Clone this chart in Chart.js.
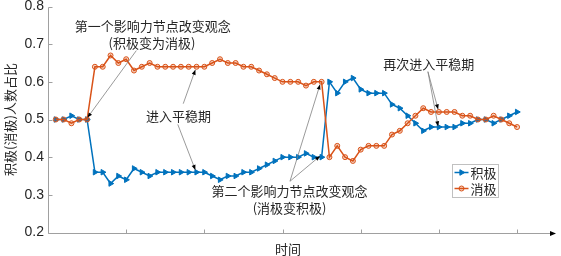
<!DOCTYPE html>
<html>
<head>
<meta charset="utf-8">
<script src="https://cdn.jsdelivr.net/npm/chart.js@4/dist/chart.umd.min.js"></script>
<style>
  html, body { margin: 0; padding: 0; background: #fff; }
</style>
</head>
<body>
<canvas id="chart" width="561" height="256"></canvas>
<script>
// time steps 1..60
const steps = Array.from({ length: 60 }, (_, i) => i + 1);
const seriesNames = ["积极", "消极"];

const positive = [
  0.50, 0.50, 0.51, 0.50, 0.50, 0.36, 0.36, 0.33, 0.35, 0.34,
  0.37, 0.36, 0.35, 0.36, 0.36, 0.36, 0.36, 0.36, 0.36, 0.36,
  0.35, 0.34, 0.35, 0.35, 0.36, 0.36, 0.37, 0.38, 0.39, 0.40,
  0.40, 0.40, 0.41, 0.40, 0.40, 0.60, 0.57, 0.60, 0.61, 0.58,
  0.57, 0.57, 0.57, 0.54, 0.53, 0.51, 0.49, 0.47, 0.48, 0.48,
  0.48, 0.48, 0.49, 0.49, 0.50, 0.50, 0.49, 0.50, 0.51, 0.52,
];
const negative = [
  0.50, 0.50, 0.49, 0.50, 0.50, 0.64, 0.64, 0.67, 0.65, 0.66,
  0.63, 0.64, 0.65, 0.64, 0.64, 0.64, 0.64, 0.64, 0.64, 0.64,
  0.65, 0.66, 0.65, 0.65, 0.64, 0.64, 0.63, 0.62, 0.61, 0.60,
  0.60, 0.60, 0.59, 0.60, 0.60, 0.40, 0.43, 0.40, 0.39, 0.42,
  0.43, 0.43, 0.43, 0.46, 0.47, 0.49, 0.51, 0.53, 0.52, 0.52,
  0.52, 0.52, 0.51, 0.51, 0.50, 0.50, 0.51, 0.50, 0.49, 0.48,
];

const yTicks = [0.2, 0.3, 0.4, 0.5, 0.6, 0.7, 0.8];
const xTicks = [10, 20, 30, 40, 50, 60];

// annotation text, anchored in data units
const notes = [
  { text: "第一个影响力节点改变观念", x: 13.4, y: 0.747 },
  { text: "(积极变为消极)", x: 13.3, y: 0.703 },
  { text: "进入平稳期", x: 16.7, y: 0.509 },
  { text: "第二个影响力节点改变观念", x: 30.9, y: 0.310 },
  { text: "(消极变积极)", x: 30.9, y: 0.266 },
  { text: "再次进入平稳期", x: 48.7, y: 0.646 },
];
// arrows: [fromX, fromY, toX, toY]
const arrows = [
  [11.3, 0.683, 5.05, 0.505],
  [17.3, 0.542, 18.85, 0.632],
  [16.6, 0.487, 18.85, 0.366],
  [30.95, 0.336, 34.8, 0.593],
  [30.95, 0.336, 34.8, 0.403],
  [48.6, 0.627, 49.9, 0.527],
  [48.6, 0.627, 49.9, 0.482],
];

const cjk = '"Noto Sans CJK SC", "Noto Sans", sans-serif';
const latin = '"Liberation Sans", Arial, sans-serif';
const textColor = "#262626";
const axisColor = "#a0a0a0";
const blue = "#0072BD";
const orange = "#D95319";

function arrowHead(ctx, x0, y0, x1, y1, len, half) {
  const a = Math.atan2(y1 - y0, x1 - x0);
  ctx.beginPath();
  ctx.moveTo(x1, y1);
  ctx.lineTo(x1 - len * Math.cos(a) + half * Math.sin(a), y1 - len * Math.sin(a) - half * Math.cos(a));
  ctx.lineTo(x1 - len * Math.cos(a) - half * Math.sin(a), y1 - len * Math.sin(a) + half * Math.cos(a));
  ctx.closePath();
  ctx.fill();
}

const axesPlugin = {
  id: "axesPlugin",
  beforeDatasetsDraw(chart) {
    const { ctx, chartArea, scales } = chart;
    const left = Math.round(chartArea.left) + 0.5;
    const bottom = Math.round(chartArea.bottom) + 0.5;
    ctx.save();
    ctx.strokeStyle = axisColor;
    ctx.lineWidth = 1;
    ctx.beginPath();
    ctx.moveTo(left, Math.round(scales.y.getPixelForValue(0.8)) + 0.5);
    ctx.lineTo(left, bottom);
    ctx.lineTo(chartArea.right + 26, bottom);
    ctx.stroke();
    // inward ticks
    ctx.beginPath();
    yTicks.forEach(v => {
      const y = Math.round(scales.y.getPixelForValue(v)) + 0.5;
      ctx.moveTo(left, y);
      ctx.lineTo(left + 4, y);
    });
    xTicks.forEach(v => {
      const x = Math.round(scales.x.getPixelForValue(v)) + 0.5;
      ctx.moveTo(x, bottom);
      ctx.lineTo(x, bottom - 4);
    });
    ctx.stroke();
    ctx.fillStyle = "#000";
    arrowHead(ctx, chartArea.left, bottom, chartArea.right + 28, bottom, 6, 2.5);
    ctx.restore();
  },
  afterDatasetsDraw(chart) {
    const { ctx, scales } = chart;
    const sx = scales.x, sy = scales.y;
    ctx.save();
    arrows.forEach(([fx, fy, tx, ty]) => {
      const x0 = sx.getPixelForValue(fx), y0 = sy.getPixelForValue(fy);
      const x1 = sx.getPixelForValue(tx), y1 = sy.getPixelForValue(ty);
      ctx.strokeStyle = "#808080";
      ctx.lineWidth = 0.8;
      ctx.beginPath();
      ctx.moveTo(x0, y0);
      ctx.lineTo(x1, y1);
      ctx.stroke();
      ctx.fillStyle = "#000";
      arrowHead(ctx, x0, y0, x1, y1, 5, 2);
    });
    ctx.fillStyle = textColor;
    ctx.font = "13px " + cjk;
    ctx.textAlign = "center";
    ctx.textBaseline = "middle";
    notes.forEach(n => {
      ctx.fillText(n.text, sx.getPixelForValue(n.x), sy.getPixelForValue(n.y));
    });

    // legend box
    const bx = 452.5, by = 164.5, bw = 46, bh = 33;
    ctx.fillStyle = "#fff";
    ctx.fillRect(bx, by, bw, bh);
    ctx.strokeStyle = "#c0c0c0";
    ctx.lineWidth = 1;
    ctx.strokeRect(bx, by, bw, bh);
    chart.data.datasets.forEach((ds, i) => {
      const y = by + 8 + i * 16;
      ctx.strokeStyle = ds.borderColor;
      ctx.lineWidth = ds.borderWidth;
      ctx.beginPath();
      ctx.moveTo(bx + 2, y);
      ctx.lineTo(bx + 16, y);
      ctx.stroke();
      ctx.fillStyle = ds.pointBackgroundColor;
      ctx.lineWidth = 1;
      Chart.helpers.drawPoint(ctx, {
        pointStyle: ds.pointStyle,
        rotation: ds.pointRotation,
        radius: ds.pointRadius,
        borderWidth: 1,
      }, bx + 9, y);
      ctx.fillStyle = textColor;
      ctx.font = "13px " + cjk;
      ctx.textAlign = "left";
      ctx.fillText(ds.label, bx + 18, y + 0.5);
    });
    ctx.restore();
  },
};

new Chart(document.getElementById("chart"), {
  type: "line",
  data: {
    datasets: [
      {
        label: seriesNames[0],
        data: steps.map((t, i) => ({ x: t, y: positive[i] })),
        borderColor: blue,
        backgroundColor: blue,
        pointBackgroundColor: blue,
        pointBorderColor: blue,
        borderWidth: 1.5,
        pointStyle: "triangle",
        pointRotation: 90,
        pointRadius: 3.2,
        pointBorderWidth: 1,
        order: 1,
      },
      {
        label: seriesNames[1],
        data: steps.map((t, i) => ({ x: t, y: negative[i] })),
        borderColor: orange,
        backgroundColor: orange,
        pointBackgroundColor: "rgba(217,83,25,0.25)",
        pointBorderColor: orange,
        borderWidth: 1.5,
        pointStyle: "circle",
        pointRadius: 2.5,
        pointBorderWidth: 1,
        order: 0,
      },
    ],
  },
  options: {
    responsive: false,
    animation: false,
    layout: { padding: { top: 6.5, right: 33, left: 0, bottom: 0 } },
    plugins: {
      legend: { display: false },
      tooltip: { enabled: false },
    },
    scales: {
      x: {
        type: "linear",
        min: 0,
        max: 61.4,
        grid: { display: false, drawTicks: false },
        border: { display: false },
        ticks: { display: false },
        title: {
          display: true,
          text: "时间",
          color: textColor,
          font: { family: cjk, size: 13, lineHeight: 1 },
          padding: 0,
        },
        afterFit: s => { s.height = 23.5; s.paddingLeft = 0; s.paddingRight = 0; },
      },
      y: {
        min: 0.2,
        max: 0.8,
        afterBuildTicks: s => { s.ticks = yTicks.map(v => ({ value: v })); },
        grid: { display: false, drawTicks: false },
        border: { display: false },
        ticks: {
          padding: 4,
          color: textColor,
          font: { family: latin, size: 14, lineHeight: 1 },
          callback: v => v.toFixed(1),
        },
        title: {
          display: true,
          text: "积极(消极)人数占比",
          color: textColor,
          font: { family: cjk, size: 13, lineHeight: 1 },
          padding: { top: 3.5, bottom: 0 },
        },
        afterFit: s => { s.width = 48; s.paddingTop = 0; s.paddingBottom = 0; },
      },
    },
  },
  plugins: [axesPlugin],
});
</script>
</body>
</html>
